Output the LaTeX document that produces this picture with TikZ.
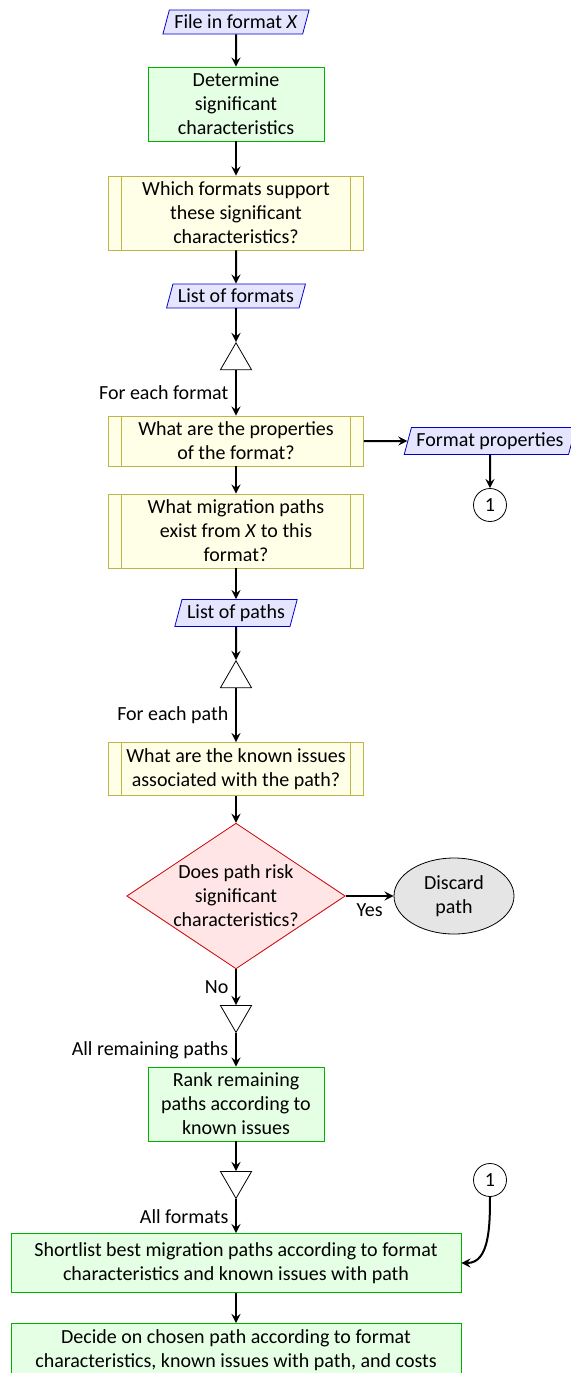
\documentclass[tikz,border=0pt]{standalone}
\usepackage{fontspec}
\setmainfont{Carlito}
\usetikzlibrary{shapes.geometric}

\begin{document}
\begin{tikzpicture}[x=0.5pt,y=-0.5pt,>=stealth,font=\fontsize{10}{12}\selectfont,
        data/.style={trapezium,trapezium left angle=75,trapezium right angle=105,draw=blue!80!black,fill=blue!10,inner sep=2.5pt},
        proc/.style={rectangle,draw=green!70!black,fill=green!10,align=center,inner sep=3pt,minimum width=88pt},
        subproc/.style={rectangle,draw=olive!60,fill=yellow!10,align=center,inner sep=3pt,minimum width=127.5pt,
            path picture={\draw[olive!60] ([xshift=6.5pt]path picture bounding box.north west) -- ([xshift=6.5pt]path picture bounding box.south west)
                ([xshift=-6.5pt]path picture bounding box.north east) -- ([xshift=-6.5pt]path picture bounding box.south east);}},
        decision/.style={diamond,aspect=1.5,draw=red!80!black,fill=red!10,align=center,inner sep=0pt},
        term/.style={ellipse,draw,fill=gray!20,align=center,minimum width=60pt,minimum height=38pt,inner sep=0pt},
        conn/.style={circle,draw,minimum size=16.5pt,inner sep=0pt},
        tri/.style={regular polygon,regular polygon sides=3,draw,fill=white,minimum size=18pt,inner sep=0pt},
        arr/.style={->,line width=1pt}]
    \useasboundingbox (0,0) rectangle (571,1373);

    % main column
    \node[data] (fmtx) at (236,22) {File in format \textit{X}};
    \node[proc] (sig) at (236,104) {Determine\\significant\\characteristics};
    \node[subproc] (supp) at (236,213) {Which formats support\\these significant\\characteristics?};
    \node[data] (fmts) at (236,296) {List of formats};
    \node[tri,anchor=north] (each1) at (236,342) {};
    \node[subproc] (props) at (236,441) {What are the properties\\of the format?};
    \node[subproc] (paths) at (236,531) {What migration paths\\exist from \textit{X} to this\\format?};
    \node[data] (lpaths) at (236,613) {List of paths};
    \node[tri,anchor=north] (each2) at (236,660) {};
    \node[subproc] (issues) at (236,769) {What are the known issues\\associated with the path?};
    \node[decision] (risk) at (236,896) {Does path risk\\significant\\characteristics?};
    \node[tri,shape border rotate=180,anchor=north] (join2) at (236,1005) {};
    \node[proc] (rank) at (236,1104) {Rank remaining\\paths according to\\known issues};
    \node[tri,shape border rotate=180,anchor=north] (join1) at (236,1171) {};
    \node[proc,minimum width=225pt,minimum height=29.5pt] (short) at (236,1263) {Shortlist best migration paths according to format\\characteristics and known issues with path};
    \node[proc,minimum width=225pt,anchor=north] (decide) at (236,1323) {Decide on chosen path according to format\\characteristics, known issues with path, and costs};

    % side branches
    \node[data] (fprops) at (490,441) {Format properties};
    \node[conn] (outA) at (490,505) {1};
    \node[term] (discard) at (454,896) {Discard\\path};
    \node[conn] (inA) at (490,1180) {1};

    \draw[arr] (fmtx) -- (sig);
    \draw[arr] (sig) -- (supp);
    \draw[arr] (supp) -- (fmts);
    \draw[arr] (fmts) -- (each1.north);
    \draw[arr] (each1.south) -- node[left]{For each format} (props);
    \draw[arr] (props) -- (fprops);
    \draw[arr] (fprops) -- (outA);
    \draw[arr] (props) -- (paths);
    \draw[arr] (paths) -- (lpaths);
    \draw[arr] (lpaths) -- (each2.north);
    \draw[arr] (each2.south) -- node[left]{For each path} (issues);
    \draw[arr] (issues) -- (risk);
    \draw[arr] (risk) -- node[below]{Yes} (discard);
    \draw[arr] (risk) -- node[left]{No} (join2.north);
    \draw[arr] (join2.south) -- node[left]{All remaining paths} (rank);
    \draw[arr] (rank) -- (join1.north);
    \draw[arr] (join1.south) -- node[left]{All formats} (short);
    \draw[arr] (inA) to[out=-90,in=0] (short);
    \draw[arr] (short) -- (decide);
\end{tikzpicture}
\end{document}
